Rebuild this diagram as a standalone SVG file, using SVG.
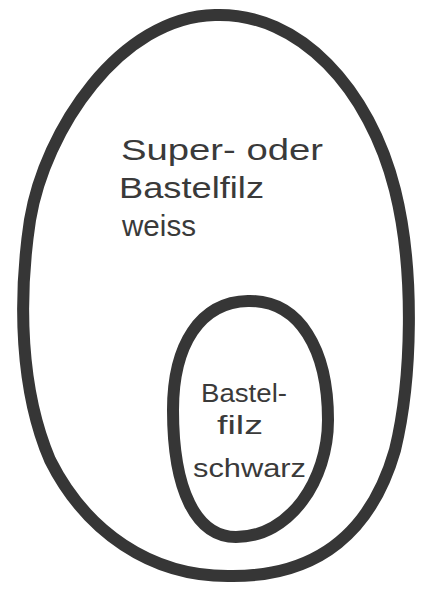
<svg xmlns="http://www.w3.org/2000/svg" width="421" height="590" viewBox="0 0 421 590">
<style>
.ring{fill:none;stroke:#363636;stroke-width:12;stroke-linejoin:round}
.lbl{font-family:"Liberation Sans","DejaVu Sans",sans-serif;fill:#3a3a3a;font-size:30px}
.lbl2{font-family:"Liberation Sans","DejaVu Sans",sans-serif;fill:#3a3a3a;font-size:26px}
</style>
<rect width="421" height="590" fill="#ffffff"/>
<g id="outer">
<path class="ring" d="M 215,15 C 300,12 370,90 395,190 C 415,270 412,380 395,450 C 372,530 320,576 233,576 C 150,578 85,530 50,460 C 20,390 18,300 30,220 C 45,130 120,17 215,15 Z"/>
<text class="lbl" x="121" y="160" textLength="202" lengthAdjust="spacingAndGlyphs">Super- oder</text>
<text class="lbl" x="119" y="198" textLength="145" lengthAdjust="spacingAndGlyphs">Bastelfilz</text>
<text class="lbl" x="122" y="236" textLength="74" lengthAdjust="spacingAndGlyphs">weiss</text>
</g>
<g id="inner">
<path class="ring" d="M 248,301 C 300,300 328,350 328,420 C 328,480 290,537 236,537 C 196,537 173,490 173,410 C 173,345 200,302 248,301 Z"/>
<text class="lbl2" x="201" y="402" textLength="86" lengthAdjust="spacingAndGlyphs">Bastel-</text>
<text class="lbl2" x="217" y="434" textLength="46" lengthAdjust="spacingAndGlyphs">filz</text>
<text class="lbl2" x="193" y="477" textLength="113" lengthAdjust="spacingAndGlyphs">schwarz</text>
</g>
<g id="connectors"/>
</svg>
